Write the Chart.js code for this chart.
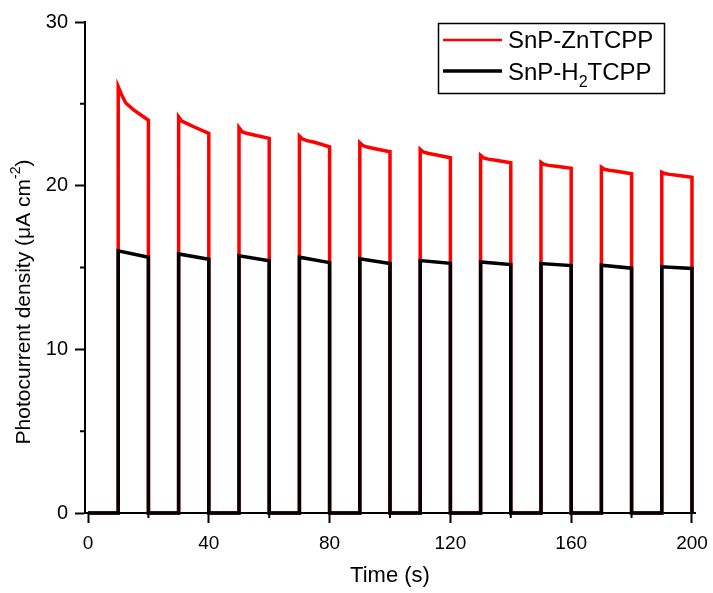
<!DOCTYPE html>
<html>
<head>
<meta charset="utf-8">
<script src="https://cdn.jsdelivr.net/npm/chart.js@4.4.1/dist/chart.umd.min.js"></script>
<style>
  body { margin: 0; background: #fff; }
  canvas { display: block; }
</style>
</head>
<body>
<canvas id="photocurrent" width="713" height="593"></canvas>
<script>
// light switched on at these times, each pulse lasts 10 s
const onTimes = [10, 30, 50, 70, 90, 110, 130, 150, 170, 190];
const pulseLength = 10;
// sample offsets (s) inside a light pulse for the ZnTCPP trace
const zincOffsets = [0, 1, 2.5, 5, 10];
const zincPulses = [
  [26.04, 25.6, 25.05, 24.65, 24.0],
  [24.2, 23.95, 23.82, 23.6, 23.2],
  [23.54, 23.3, 23.2, 23.1, 22.89],
  [23.03, 22.85, 22.75, 22.65, 22.38],
  [22.62, 22.45, 22.36, 22.26, 22.07],
  [22.22, 22.06, 21.98, 21.89, 21.71],
  [21.85, 21.7, 21.62, 21.55, 21.4],
  [21.43, 21.3, 21.24, 21.18, 21.06],
  [21.12, 21.0, 20.94, 20.88, 20.73],
  [20.82, 20.74, 20.69, 20.64, 20.51]
];
// H2TCPP: current at light on and just before light off
const h2On  = [16.02, 15.83, 15.71, 15.63, 15.53, 15.42, 15.34, 15.24, 15.14, 15.04];
const h2Off = [15.63, 15.51, 15.41, 15.30, 15.24, 15.26, 15.18, 15.12, 14.96, 14.94];

const xTicks = [0, 40, 80, 120, 160, 200];
const xMinorTicks = [20, 60, 100, 140, 180];
const yTicks = [0, 10, 20, 30];
const yMinorTicks = [5, 15, 25];

const FONT = "Arial, 'Liberation Sans', sans-serif";

function zincPoints() {
  const pts = [{x: 0, y: 0}];
  onTimes.forEach((t, i) => {
    pts.push({x: t, y: 0});
    zincOffsets.forEach((o, k) => pts.push({x: t + o, y: zincPulses[i][k]}));
    pts.push({x: t + pulseLength, y: 0});
  });
  return pts;
}

function h2Points() {
  const pts = [{x: 0, y: 0}];
  onTimes.forEach((t, i) => {
    pts.push({x: t, y: 0});
    pts.push({x: t, y: h2On[i]});
    pts.push({x: t + pulseLength, y: h2Off[i]});
    pts.push({x: t + pulseLength, y: 0});
  });
  return pts;
}

const extras = {
  id: 'extras',
  afterDraw(chart) {
    const c = chart.ctx;
    const xs = chart.scales.x, ys = chart.scales.y;
    const area = chart.chartArea;
    c.save();
    // minor ticks
    c.strokeStyle = '#000';
    c.lineWidth = 2;
    c.beginPath();
    xMinorTicks.forEach(v => {
      const px = xs.getPixelForValue(v);
      c.moveTo(px, area.bottom);
      c.lineTo(px, area.bottom + 5);
    });
    yMinorTicks.forEach(v => {
      const py = ys.getPixelForValue(v);
      c.moveTo(area.left, py);
      c.lineTo(area.left - 5, py);
    });
    c.stroke();

    // y axis title with superscript
    c.fillStyle = '#000';
    c.textBaseline = 'middle';
    const big = '21px ' + FONT, small = '14px ' + FONT;
    const p1 = 'Photocurrent density (\u03BCA cm', p2 = '-2', p3 = ')';
    c.font = big; const w1 = c.measureText(p1).width, w3 = c.measureText(p3).width;
    c.font = small; const w2 = c.measureText(p2).width;
    const total = w1 + w2 + w3;
    c.translate(24, 302);
    c.rotate(-Math.PI / 2);
    let x0 = -total / 2;
    c.textAlign = 'left';
    c.font = big; c.fillText(p1, x0, 0);
    c.font = small; c.fillText(p2, x0 + w1, -8);
    c.font = big; c.fillText(p3, x0 + w1 + w2, 0);
    c.restore();

    // legend
    c.save();
    c.strokeStyle = '#000';
    c.lineWidth = 1.5;
    c.strokeRect(438.5, 23.5, 226, 70);
    c.lineWidth = 2.5;
    c.strokeStyle = '#ff0000';
    c.beginPath(); c.moveTo(443, 40); c.lineTo(502, 40); c.stroke();
    c.lineWidth = 3.5;
    c.strokeStyle = '#000';
    c.beginPath(); c.moveTo(443, 71); c.lineTo(502, 71); c.stroke();
    c.fillStyle = '#000';
    c.textBaseline = 'alphabetic';
    c.textAlign = 'left';
    c.font = '24px ' + FONT;
    c.fillText('SnP-ZnTCPP', 508, 48);
    const a = 'SnP-H';
    c.fillText(a, 508, 80);
    const wa = c.measureText(a).width;
    c.font = '16px ' + FONT;
    c.fillText('2', 508 + wa, 87);
    const ws = c.measureText('2').width;
    c.font = '24px ' + FONT;
    c.fillText('TCPP', 508 + wa + ws, 80);
    c.restore();
  }
};

const ctx = document.getElementById('photocurrent').getContext('2d');
const chart = new Chart(ctx, {
  type: 'line',
  data: {
    datasets: [{
      label: 'SnP-ZnTCPP',
      data: zincPoints(),
      borderColor: '#ff0000',
      borderWidth: 3.5,
      order: 2
    }, {
      label: 'SnP-H2TCPP',
      data: h2Points(),
      borderColor: '#000000',
      borderWidth: 3.5,
      order: 1
    }]
  },
  options: {
    responsive: false,
    animation: false,
    clip: false,
    elements: {
      point: { radius: 0 },
      line: { tension: 0, borderJoinStyle: 'miter', borderCapStyle: 'butt' }
    },
    layout: { padding: { left: 0, top: 22, right: 18, bottom: 0 } },
    plugins: {
      legend: { display: false },
      tooltip: { enabled: false }
    },
    scales: {
      x: {
        type: 'linear',
        min: -1,
        max: 201,
        afterFit: s => { s.height = 80; s.paddingLeft = 0; s.paddingRight = 0; },
        afterBuildTicks: s => { s.ticks = xTicks.map(v => ({value: v})); },
        border: { display: true, color: '#000', width: 2 },
        grid: { drawOnChartArea: false, tickLength: 10, tickColor: '#000', tickWidth: 2 },
        ticks: { color: '#000', font: { family: FONT, size: 19 }, padding: 9, maxRotation: 0 },
        title: {
          display: true,
          text: 'Time (s)',
          color: '#000',
          font: { family: FONT, size: 22 },
          padding: { top: 0, bottom: 4 }
        }
      },
      y: {
        type: 'linear',
        min: 0,
        max: 30,
        afterFit: s => { s.width = 85; s.paddingTop = 0; s.paddingBottom = 0; },
        afterBuildTicks: s => { s.ticks = yTicks.map(v => ({value: v})); },
        border: { display: true, color: '#000', width: 2 },
        grid: { drawOnChartArea: false, tickLength: 10, tickColor: '#000', tickWidth: 2 },
        ticks: { color: '#000', font: { family: FONT, size: 20 }, padding: 7 }
      }
    }
  },
  plugins: [extras]
});
</script>
</body>
</html>
